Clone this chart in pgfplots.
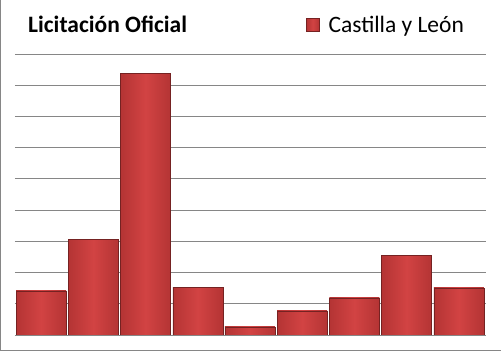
\documentclass[border=0pt]{standalone}
\usepackage{fontspec}
\setmainfont{Carlito}
\usepackage{pgfplots}
\pgfplotsset{compat=1.18}
\definecolor{gridgray}{HTML}{868686}
\definecolor{barmid}{HTML}{D24343}
\definecolor{baredge}{HTML}{B43434}
\pgfplotsset{redbar/.style={draw=baredge!65!black, line width=0.4pt, left color=baredge, right color=baredge, middle color=barmid, bar shift=0pt}}
\begin{document}
\begin{tikzpicture}[x=1pt,y=1pt]
\useasboundingbox (0,0) rectangle (501,351);
\draw[gridgray, line width=1pt] (0.5,351) -- (0.5,0.5) -- (501,0.5);
\node[anchor=base west, font=\fontsize{23.5}{28}\selectfont\bfseries, inner sep=0] at (28,318) {Licitación Oficial};
\begin{axis}[
  at={(15pt,16pt)}, anchor=south west,
  scale only axis, width=471pt, height=281pt,
  xmin=-0.5, xmax=8.52, ymin=0, ymax=9,
  ytick={0,...,9}, xtick=\empty, yticklabels=\empty,
  ymajorgrids, grid style={gridgray, line width=0.8pt},
  axis line style={draw=none}, major tick length=0pt,
  ybar, bar width=50pt,
  legend style={at={(0,1)}, anchor=west, xshift=291pt, yshift=29pt,
    draw=none, fill=none, inner sep=0pt,
    font=\fontsize{23.5}{28}\selectfont},
  legend image code/.code={\draw[draw=baredge!65!black, line width=0.3pt, left color=baredge, right color=baredge, middle color=barmid] (0pt,-6.5pt) rectangle (13pt,6.5pt); \path (20pt,0pt);},
]
\addplot[redbar] coordinates {(0,1.41)};
\addlegendentry{Castilla y León}
\addplot[redbar, forget plot] coordinates {(1,3.07)};
\addplot[redbar, forget plot] coordinates {(2,8.38)};
\addplot[redbar, forget plot] coordinates {(3,1.53)};
\addplot[redbar, forget plot] coordinates {(4,0.26)};
\addplot[redbar, forget plot] coordinates {(5,0.77)};
\addplot[redbar, forget plot] coordinates {(6,1.19)};
\addplot[redbar, forget plot] coordinates {(7,2.56)};
\addplot[redbar, forget plot] coordinates {(8,1.51)};
\end{axis}
\end{tikzpicture}
\end{document}
